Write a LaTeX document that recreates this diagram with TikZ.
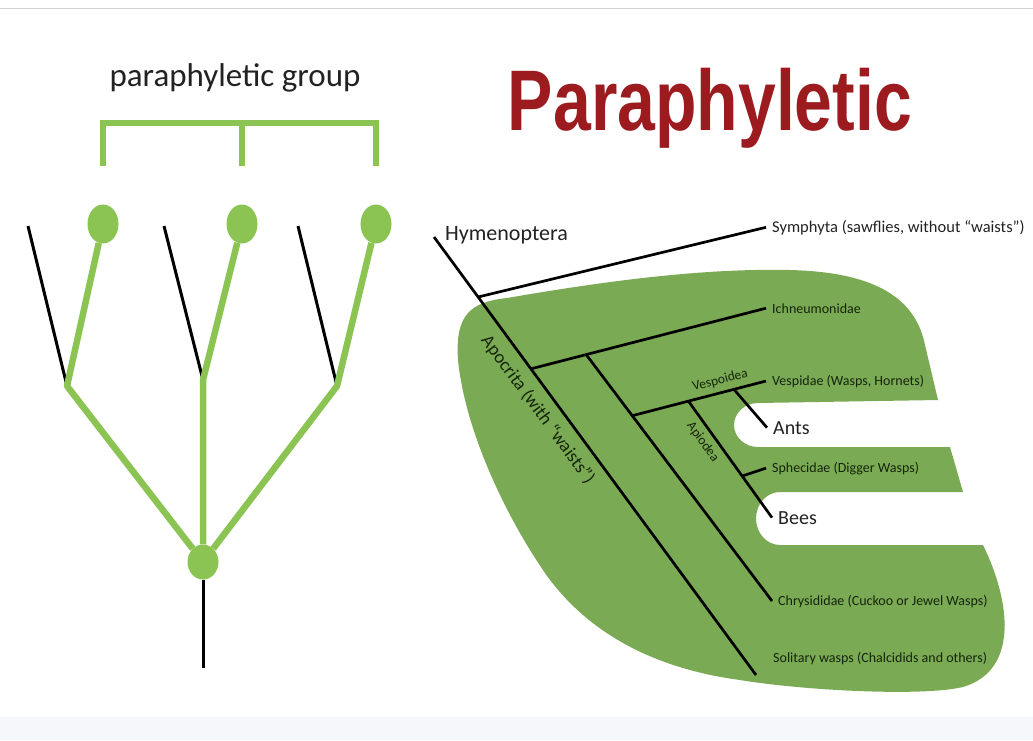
\documentclass[tikz,border=0pt]{standalone}
\usepackage{fontspec}
\usepackage{graphicx}
\usetikzlibrary{shapes.geometric,calc}
\newfontfamily\calfont{Carlito}
\newfontfamily\titlefont{Liberation Sans}
\definecolor{cladelime}{RGB}{140,196,84}
\definecolor{cladegreen}{RGB}{123,170,84}
\definecolor{leafink}{RGB}{20,36,10}
\definecolor{ink}{RGB}{34,34,34}
\definecolor{titlered}{RGB}{155,27,30}
\definecolor{bandgray}{RGB}{246,247,250}
\tikzset{twig/.style={draw=black, line width=3pt},
        limb/.style={draw=cladelime, line width=6.5pt, line join=round},
        tipnode/.style={
            ellipse,
            fill=cladelime,
            minimum width=31pt,
            minimum height=39pt,
            inner sep=0pt},
        %
        branch/.style={draw=black, line width=2.7pt},
        leaf/.style={
            font=\calfont\fontsize{14}{17}\selectfont,
            text=leafink,
            anchor=base west,
            inner xsep=6pt,
            inner ysep=0pt},
        bigleaf/.style={
            leaf,
            font=\calfont\fontsize{20}{24}\selectfont,
            text=ink},
        tag/.style={
            font=\calfont\fontsize{13.5}{16}\selectfont,
            text=leafink,
            inner sep=1pt}
        }
\def\tickup{58}

\begin{document}
\begin{tikzpicture}[x=1pt,y=1pt]
\useasboundingbox (0,0) rectangle (1033,-740);
\fill[bandgray] (0,-717) rectangle (1033,-740);
\draw[bandgray!85!black, line width=0.8pt] (0,-8) -- (1033,-8);

% left: cladogram
\node[font=\calfont\fontsize{33}{40}\selectfont, text=ink, anchor=base] (grp) at (235,-86) {paraphyletic group};

\coordinate (N1) at (67,-386);
\coordinate (N2) at (203,-380);
\coordinate (N3) at (337,-386);
\coordinate (O1) at (28,-226);
\coordinate (O2) at (164,-226);
\coordinate (O3) at (298,-226);
\coordinate (base) at (203,-668);

\foreach \o/\n in {O1/N1,O2/N2,O3/N3}
    \draw[twig] (\o) -- (\n);

\node[tipnode] (T1) at (103,-224) {};
\node[tipnode] (T2) at (242,-224) {};
\node[tipnode] (T3) at (376,-224) {};
\node[tipnode, minimum height=35pt] (R) at (203,-562) {};

\draw[twig] (R) -- (base);
\foreach \n/\t in {N1/T1,N2/T2,N3/T3}
    \draw[limb] (R) -- (\n) -- (\t);

\draw[limb, line join=miter] ([yshift=\tickup pt]T1.center) -- ++(0,43) -| ([yshift=\tickup pt]T3.center);
\draw[limb] ([yshift=\tickup pt]T2.center) -- ++(0,43);

% right: Hymenoptera
\node[font=\titlefont\bfseries\fontsize{86}{90}\selectfont, text=titlered, anchor=base] (title) at (710,-130) {\scalebox{0.79}[1]{Paraphyletic}};

\fill[cladegreen] (458,-360) .. controls (455,-315) and (470,-302) .. (507,-298)
    .. controls (600,-282) and (700,-268) .. (790,-270)
    .. controls (870,-272) and (915,-295) .. (925,-345)
    -- (938,-400) -- (758,-403)
    arc[start angle=90, end angle=270, x radius=24, y radius=22]
    -- (950,-447) -- (963,-492) -- (780,-492)
    arc[start angle=90, end angle=270, x radius=24, y radius=26.5]
    -- (983,-545)
    .. controls (1010,-600) and (1020,-670) .. (963,-687)
    .. controls (920,-697) and (800,-690) .. (740,-680)
    .. controls (650,-668) and (585,-630) .. (545,-573)
    .. controls (505,-515) and (465,-430) .. (458,-360) -- cycle;

\node[bigleaf, font=\calfont\fontsize{22}{26}\selectfont] (hym) at (439,-240) {Hymenoptera};
\node[leaf, font=\calfont\fontsize{16.5}{19}\selectfont, text=ink] (sym) at (766,-232) {Symphyta (sawflies, without “waists”)};
\node[leaf] (ich) at (766,-313) {Ichneumonidae};
\node[leaf] (ves) at (766,-385) {Vespidae (Wasps, Hornets)};
\node[bigleaf] (ant) at (767,-434) {Ants};
\node[leaf] (sph) at (766,-472) {Sphecidae (Digger Wasps)};
\node[bigleaf] (bee) at (772,-524) {Bees};
\node[leaf] (chr) at (772,-605) {Chrysididae (Cuckoo or Jewel Wasps)};
\node[leaf] (sol) at (767,-662) {Solitary wasps (Chalcidids and others)};

\coordinate (top) at ([shift={(-5pt,3pt)}]hym.base west);
\coordinate (tip) at ([shift={(-11pt,-13pt)}]sol.base west);
\coordinate (J1) at ($(top)!0.137!(tip)$);
\coordinate (J2) at ($(top)!0.301!(tip)$);
\coordinate (J3) at ($(J2)!0.235!(ich.west)$);
\coordinate (J4) at ($(J3)!0.248!(chr.west)$);
\coordinate (J5) at ($(J4)!0.42!(ves.west)$);
\coordinate (J6) at ($(J4)!0.76!(ves.west)$);
\coordinate (J7) at ($(J5)!0.643!(bee.west)$);

\draw[branch] (top) -- node[pos=0.369, sloped, below=8pt, tag, font=\calfont\fontsize{18.5}{22}\selectfont] {Apocrita (with “waists”)} (tip);
\draw[branch] (J1) -- (sym.west);
\draw[branch] (J2) -- (ich.west);
\draw[branch] (J3) -- (chr.west);
\draw[branch] (J4) -- node[pos=0.68, sloped, above=4pt, tag] {Vespoidea} (ves.west);
\draw[branch] (J5) -- node[pos=0.29, sloped, below=4pt, tag] {Apiodea} (bee.west);
\draw[branch] (J6) -- (ant.west);
\draw[branch] (J7) -- (sph.west);
\end{tikzpicture}
\end{document}
